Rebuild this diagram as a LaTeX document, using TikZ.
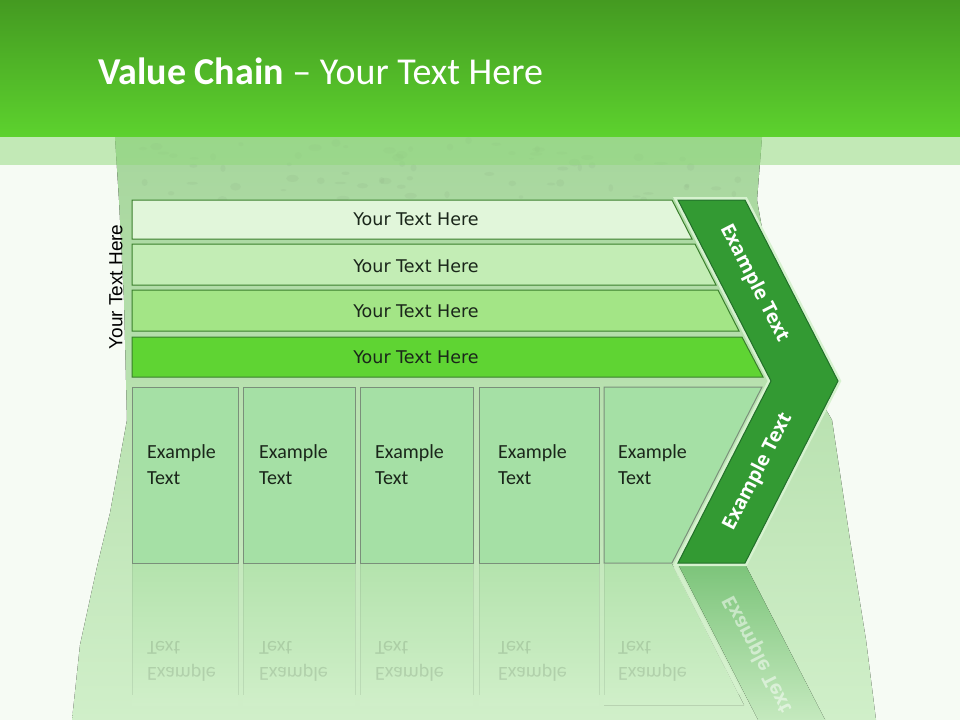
\documentclass[tikz,border=0pt]{standalone}
\usepackage{fontspec}
\setmainfont{Carlito}
\newfontfamily\barfont{DejaVu Sans}
\newfontfamily\sidefont{Liberation Sans}
\newfontfamily\chevfont{Open Sans}
\usepackage{tikz}
\usetikzlibrary{positioning}
\definecolor{bandtop}{HTML}{449A21}
\definecolor{bandbot}{HTML}{5DD22E}
\definecolor{bgpale}{HTML}{F6FBF4}
\definecolor{stripcol}{HTML}{8FD87A}
\definecolor{brushtop}{HTML}{A6D69C}
\definecolor{brushmid}{HTML}{C4E8BC}
\definecolor{brushbot}{HTML}{D0EFC9}
\definecolor{speck}{HTML}{8FB488}
\definecolor{barone}{HTML}{E1F6DA}
\definecolor{bartwo}{HTML}{C3EDB5}
\definecolor{barthree}{HTML}{A3E586}
\definecolor{barfour}{HTML}{5FD433}
\definecolor{barline}{HTML}{3A7F2C}
\definecolor{boxfill}{HTML}{A5E0A5}
\definecolor{boxline}{HTML}{7A8F7A}
\definecolor{chevfill}{HTML}{339A33}
\definecolor{chevline}{HTML}{22702A}
\definecolor{glow}{HTML}{D6F2CF}
\definecolor{reflbox}{HTML}{B4E3AD}
\definecolor{reflchev}{HTML}{7CC47A}
\definecolor{inktext}{HTML}{1A261A}
\tikzset{
  barshape/.style={draw=barline, line width=1bp},
  boxshape/.style={draw=boxline, fill=boxfill, line width=1bp},
  chevshape/.style={draw=chevline, fill=chevfill, line width=1bp},
  bartext/.style={font=\barfont\fontsize{17.5bp}{21bp}\selectfont, text=inktext, inner sep=0pt},
  boxtext/.style={font=\fontsize{20bp}{26bp}\selectfont, text=inktext, align=left, anchor=north west, inner sep=0pt},
  chevtext/.style={font=\chevfont\bfseries\fontsize{19.5bp}{23bp}\selectfont, text=white, inner sep=0pt},
  sidetext/.style={font=\sidefont\fontsize{19bp}{23bp}\selectfont, text=black, inner sep=0pt, rotate=90},
  titletext/.style={font=\fontsize{38bp}{45bp}\selectfont, text=white, anchor=base west, inner sep=0pt},
  reflline/.style={draw=boxline, line width=1bp, opacity=0.2}
}
\begin{document}
\begin{tikzpicture}[x=1bp, y=-1bp]
  \useasboundingbox (0,0) rectangle (960,720);
  \fill[bgpale] (0,0) rectangle (960,720);

  % brush stroke behind the chart
  \fill[top color=brushtop, middle color=brushmid, bottom color=brushbot]
    (115,137) -- (762,137) -- (757,200) -- (780,330) -- (832,420) -- (850,540)
    -- (866,640) -- (876,720) -- (72,720) -- (80,645) -- (97,567) -- (110,513)
    -- (127,420) -- (124,300) -- (119,200) -- cycle;
  \pgfmathsetseed{7}
  \foreach \i in {1,...,70}
    \fill[speck, opacity=0.18] ({125+630*rnd},{140+60*rnd}) ellipse ({2+5*rnd} and {1+3*rnd});

  % title band
  \fill[top color=bandtop, bottom color=bandbot] (0,0) rectangle (960,137);
  \fill[stripcol, opacity=0.5] (0,137) rectangle (960,165);
  \node[titletext] (title) at (98,85) {\textbf{Value Chain} -- Your Text Here};

  % reflection
  \fill[top color=reflbox, bottom color=brushbot] (132,564) rectangle (238,705);
  \fill[top color=reflbox, bottom color=brushbot] (243,564) rectangle (355,705);
  \fill[top color=reflbox, bottom color=brushbot] (360,564) rectangle (473,705);
  \fill[top color=reflbox, bottom color=brushbot] (479,564) rectangle (599,705);
  \fill[top color=reflbox, bottom color=brushbot] (604,564) -- (672,564) -- (744,705) -- (604,705) -- cycle;
  \draw[reflline] (132,564) -- (132,695) (238,564) -- (238,695) (243,564) -- (243,695) (355,564) -- (355,695)
    (360,564) -- (360,695) (473,564) -- (473,695) (479,564) -- (479,695) (599,564) -- (599,695) (604,564) -- (604,695);
  \draw[draw=glow, line width=4bp, opacity=0.8] (675,566) -- (740,693);
  \fill[top color=reflchev, bottom color=brushbot] (678,564) -- (745,564) -- (838,745) -- (771,745) -- cycle;
  \begin{scope}[shift={(0,563)}, yscale=-1, shift={(0,-563)}, transform shape]
    \node[boxtext, opacity=0.14] (rone) at (147,444) {Example\\Text};
    \node[boxtext, opacity=0.14] (rtwo) at (259,444) {Example\\Text};
    \node[boxtext, opacity=0.14] (rthree) at (375,444) {Example\\Text};
    \node[boxtext, opacity=0.14] (rfour) at (498,444) {Example\\Text};
    \node[boxtext, opacity=0.14] (rfive) at (618,444) {Example\\Text};
    \node[chevtext, rotate=62.8, opacity=0.5] (rlow) at (758,472) {Example Text};
  \end{scope}

  % value chain bars
  \filldraw[barshape, fill=barone] (132,200) -- (672,200) -- (692,239) -- (132,239) -- cycle;
  \filldraw[barshape, fill=bartwo] (132,244) -- (695,244) -- (716,285) -- (132,285) -- cycle;
  \filldraw[barshape, fill=barthree] (132,290) -- (718,290) -- (739,331) -- (132,331) -- cycle;
  \filldraw[barshape, fill=barfour] (132,337) -- (742,337) -- (763,377) -- (132,377) -- cycle;
  \node[bartext] (barA) at (416,219) {Your Text Here};
  \node[bartext] (barB) at (416,266) {Your Text Here};
  \node[bartext] (barC) at (416,311) {Your Text Here};
  \node[bartext] (barD) at (416,357) {Your Text Here};
  \node[sidetext] (side) at (116,287) {Your Text Here};

  % activity boxes
  \filldraw[boxshape] (132,387) rectangle (238,563);
  \filldraw[boxshape] (243,387) rectangle (355,563);
  \filldraw[boxshape] (360,387) rectangle (473,563);
  \filldraw[boxshape] (479,387) rectangle (599,563);
  \filldraw[boxshape] (604,387) -- (762,387) -- (672,563) -- (604,563) -- cycle;
  \node[boxtext] (boxA) at (147,444) {Example\\Text};
  \node[boxtext] (boxB) at (259,444) {Example\\Text};
  \node[boxtext] (boxC) at (375,444) {Example\\Text};
  \node[boxtext] (boxD) at (498,444) {Example\\Text};
  \node[boxtext] (boxE) at (618,444) {Example\\Text};

  % chevron
  \draw[draw=glow, line width=6bp, line join=miter]
    (678,200) -- (745,200) -- (838,381) -- (745,563) -- (678,563) -- (771,381) -- cycle;
  \filldraw[chevshape]
    (678,200) -- (745,200) -- (838,381) -- (745,563) -- (678,563) -- (771,381) -- cycle;
  \node[chevtext, rotate=-62.8] (chevup) at (754,283) {Example Text};
  \node[chevtext, rotate=62.8] (chevlow) at (758,472) {Example Text};
\end{tikzpicture}
\end{document}
